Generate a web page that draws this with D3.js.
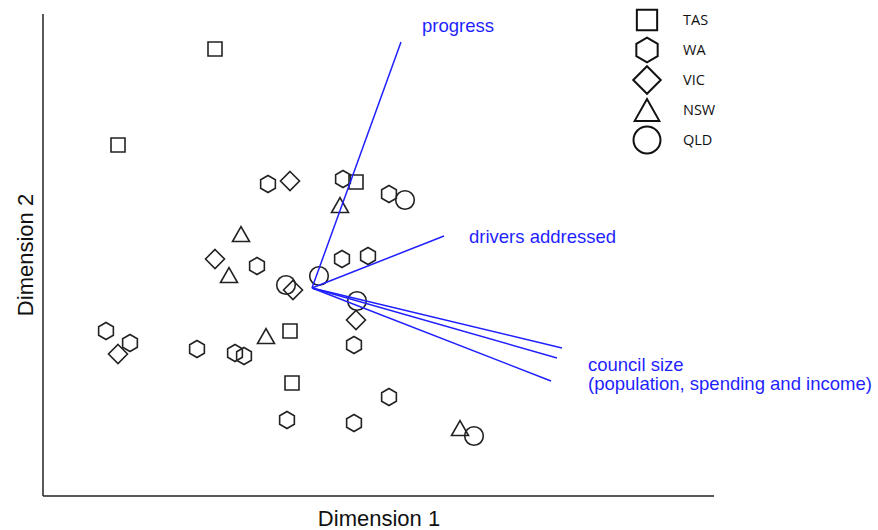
<!DOCTYPE html>
<html>
<head>
<meta charset="utf-8">
<script src="https://cdn.jsdelivr.net/npm/d3@7"></script>
<style>
  body { margin: 0; background: #fff; }
  svg { display: block; }
</style>
</head>
<body>
<div id="chart"></div>
<script>
// ordination scores
var states = ["TAS", "WA", "VIC", "NSW", "QLD"];

var pointState = [
  "TAS", "TAS", "TAS", "TAS", "TAS",
  "WA", "WA", "WA", "WA", "WA", "WA", "WA", "WA", "WA", "WA", "WA", "WA", "WA", "WA", "WA",
  "VIC", "VIC", "VIC", "VIC", "VIC",
  "NSW", "NSW", "NSW", "NSW", "NSW",
  "QLD", "QLD", "QLD", "QLD", "QLD"
];
var dim1 = [
  -0.97, -1.94, 0.44, -0.22, -0.20,
  -0.44, 0.31, 0.77, -0.55, 0.30, 0.56, -2.06, -1.82, -1.15, -0.77, -0.68, 0.42, 0.77, -0.25, 0.42,
  -0.22, -0.97, -0.19, 0.44, -1.94,
  0.28, -0.71, -0.83, -0.46, 1.48,
  0.93, 0.07, -0.26, 0.45, 1.62
];
var dim2 = [
  2.39, 1.43, 1.06, -0.43, -0.95,
  1.04, 1.09, 0.94, 0.22, 0.29, 0.32, -0.43, -0.55, -0.61, -0.65, -0.68, -0.57, -1.09, -1.32, -1.35,
  1.07, 0.29, -0.02, -0.32, -0.66,
  0.83, 0.54, 0.13, -0.48, -1.40,
  0.88, 0.12, 0.03, -0.13, -1.48
];

// fitted variable vectors
var vecName = ["progress", "drivers addressed", "council size a", "council size b", "council size c"];
var vecD1 = [0.89, 1.32, 2.50, 2.45, 2.39];
var vecD2 = [2.46, 0.52, -0.60, -0.70, -0.93];

var margin = { top: 14, right: 164, bottom: 34, left: 43 },
    width = 878 - margin.left - margin.right,
    height = 530 - margin.top - margin.bottom;

var svg = d3.select("#chart").append("svg")
    .attr("width", 878)
    .attr("height", 530);

var g = svg.append("g")
    .attr("transform", "translate(" + margin.left + "," + margin.top + ")");

var x = d3.scaleLinear().domain([-2.69, 4.02]).range([0, width]);
var y = d3.scaleLinear().domain([-2.08, 2.74]).range([height, 0]);

// outline shapes, s = scale factor
function shape(name, s) {
  var p = d3.path();
  if (name == "TAS") {
    var h = 7 * s;
    p.rect(-h, -h, 2 * h, 2 * h);
  } else if (name == "QLD") {
    var r = 9.3 * s;
    p.moveTo(r, 0);
    p.arc(0, 0, r, 0, 2 * Math.PI);
  } else if (name == "NSW") {
    var w = 8.5 * s, t = 7.5 * s;
    p.moveTo(-w, t); p.lineTo(w, t); p.lineTo(0, -t); p.closePath();
  } else if (name == "VIC") {
    var d = 9.5 * s;
    p.moveTo(0, -d); p.lineTo(d, 0); p.lineTo(0, d); p.lineTo(-d, 0); p.closePath();
  } else {
    var hr = 8.5 * s;
    for (var i = 0; i < 6; i++) {
      var a = -Math.PI / 2 + i * Math.PI / 3;
      if (i == 0) p.moveTo(hr * Math.cos(a), hr * Math.sin(a));
      else p.lineTo(hr * Math.cos(a), hr * Math.sin(a));
    }
    p.closePath();
  }
  return p.toString();
}

var pts = d3.range(pointState.length);

g.selectAll(".pt")
    .data(pts)
    .enter().append("path")
    .attr("class", "pt")
    .attr("d", function (i) { return shape(pointState[i], 1); })
    .attr("transform", function (i) { return "translate(" + x(dim1[i]) + "," + y(dim2[i]) + ")"; })
    .attr("fill", "none")
    .attr("stroke", "#222")
    .attr("stroke-width", 1.6);

// vectors
g.selectAll(".vec")
    .data(vecName)
    .enter().append("line")
    .attr("class", "vec")
    .attr("x1", x(0))
    .attr("y1", y(0))
    .attr("x2", function (d, i) { return x(vecD1[i]); })
    .attr("y2", function (d, i) { return y(vecD2[i]); })
    .attr("stroke", "#1f1fff")
    .attr("stroke-width", 1.5);

var lab = svg.append("g")
    .attr("font-family", "'Liberation Sans', Arial, sans-serif")
    .attr("font-size", 18.5)
    .attr("fill", "#1f1fff");

lab.append("text").attr("x", 422).attr("y", 32).text("progress");
lab.append("text").attr("x", 469).attr("y", 243).text("drivers addressed");
lab.append("text").attr("x", 588).attr("y", 371).text("council size");
lab.append("text").attr("x", 588).attr("y", 390).text("(population, spending and income)");

// axes: plain lines, no ticks
g.append("line")
    .attr("x1", 0).attr("y1", 0)
    .attr("x2", 0).attr("y2", height)
    .attr("stroke", "#222").attr("stroke-width", 1.5);
g.append("line")
    .attr("x1", 0).attr("y1", height)
    .attr("x2", width).attr("y2", height)
    .attr("stroke", "#222").attr("stroke-width", 1.5);

svg.append("text")
    .attr("x", 379)
    .attr("y", 526)
    .attr("text-anchor", "middle")
    .attr("font-family", "'Liberation Sans', Arial, sans-serif")
    .attr("font-size", 22)
    .attr("fill", "#111")
    .text("Dimension 1");

svg.append("text")
    .attr("transform", "translate(33,255) rotate(-90)")
    .attr("text-anchor", "middle")
    .attr("font-family", "'Liberation Sans', Arial, sans-serif")
    .attr("font-size", 22)
    .attr("fill", "#111")
    .text("Dimension 2");

// legend
var leg = svg.append("g").attr("transform", "translate(647,20)");
var row = leg.selectAll(".row")
    .data(states)
    .enter().append("g")
    .attr("class", "row")
    .attr("transform", function (d, i) { return "translate(0," + (i * 30) + ")"; });

row.append("path")
    .attr("d", function (d) { return shape(d, 1.45); })
    .attr("fill", "none")
    .attr("stroke", "#111")
    .attr("stroke-width", 2);

row.append("text")
    .attr("x", 36)
    .attr("dy", "0.35em")
    .attr("font-family", "'Open Sans', sans-serif")
    .attr("font-size", 14.5)
    .attr("fill", "#111")
    .text(function (d) { return d; });
</script>
</body>
</html>
